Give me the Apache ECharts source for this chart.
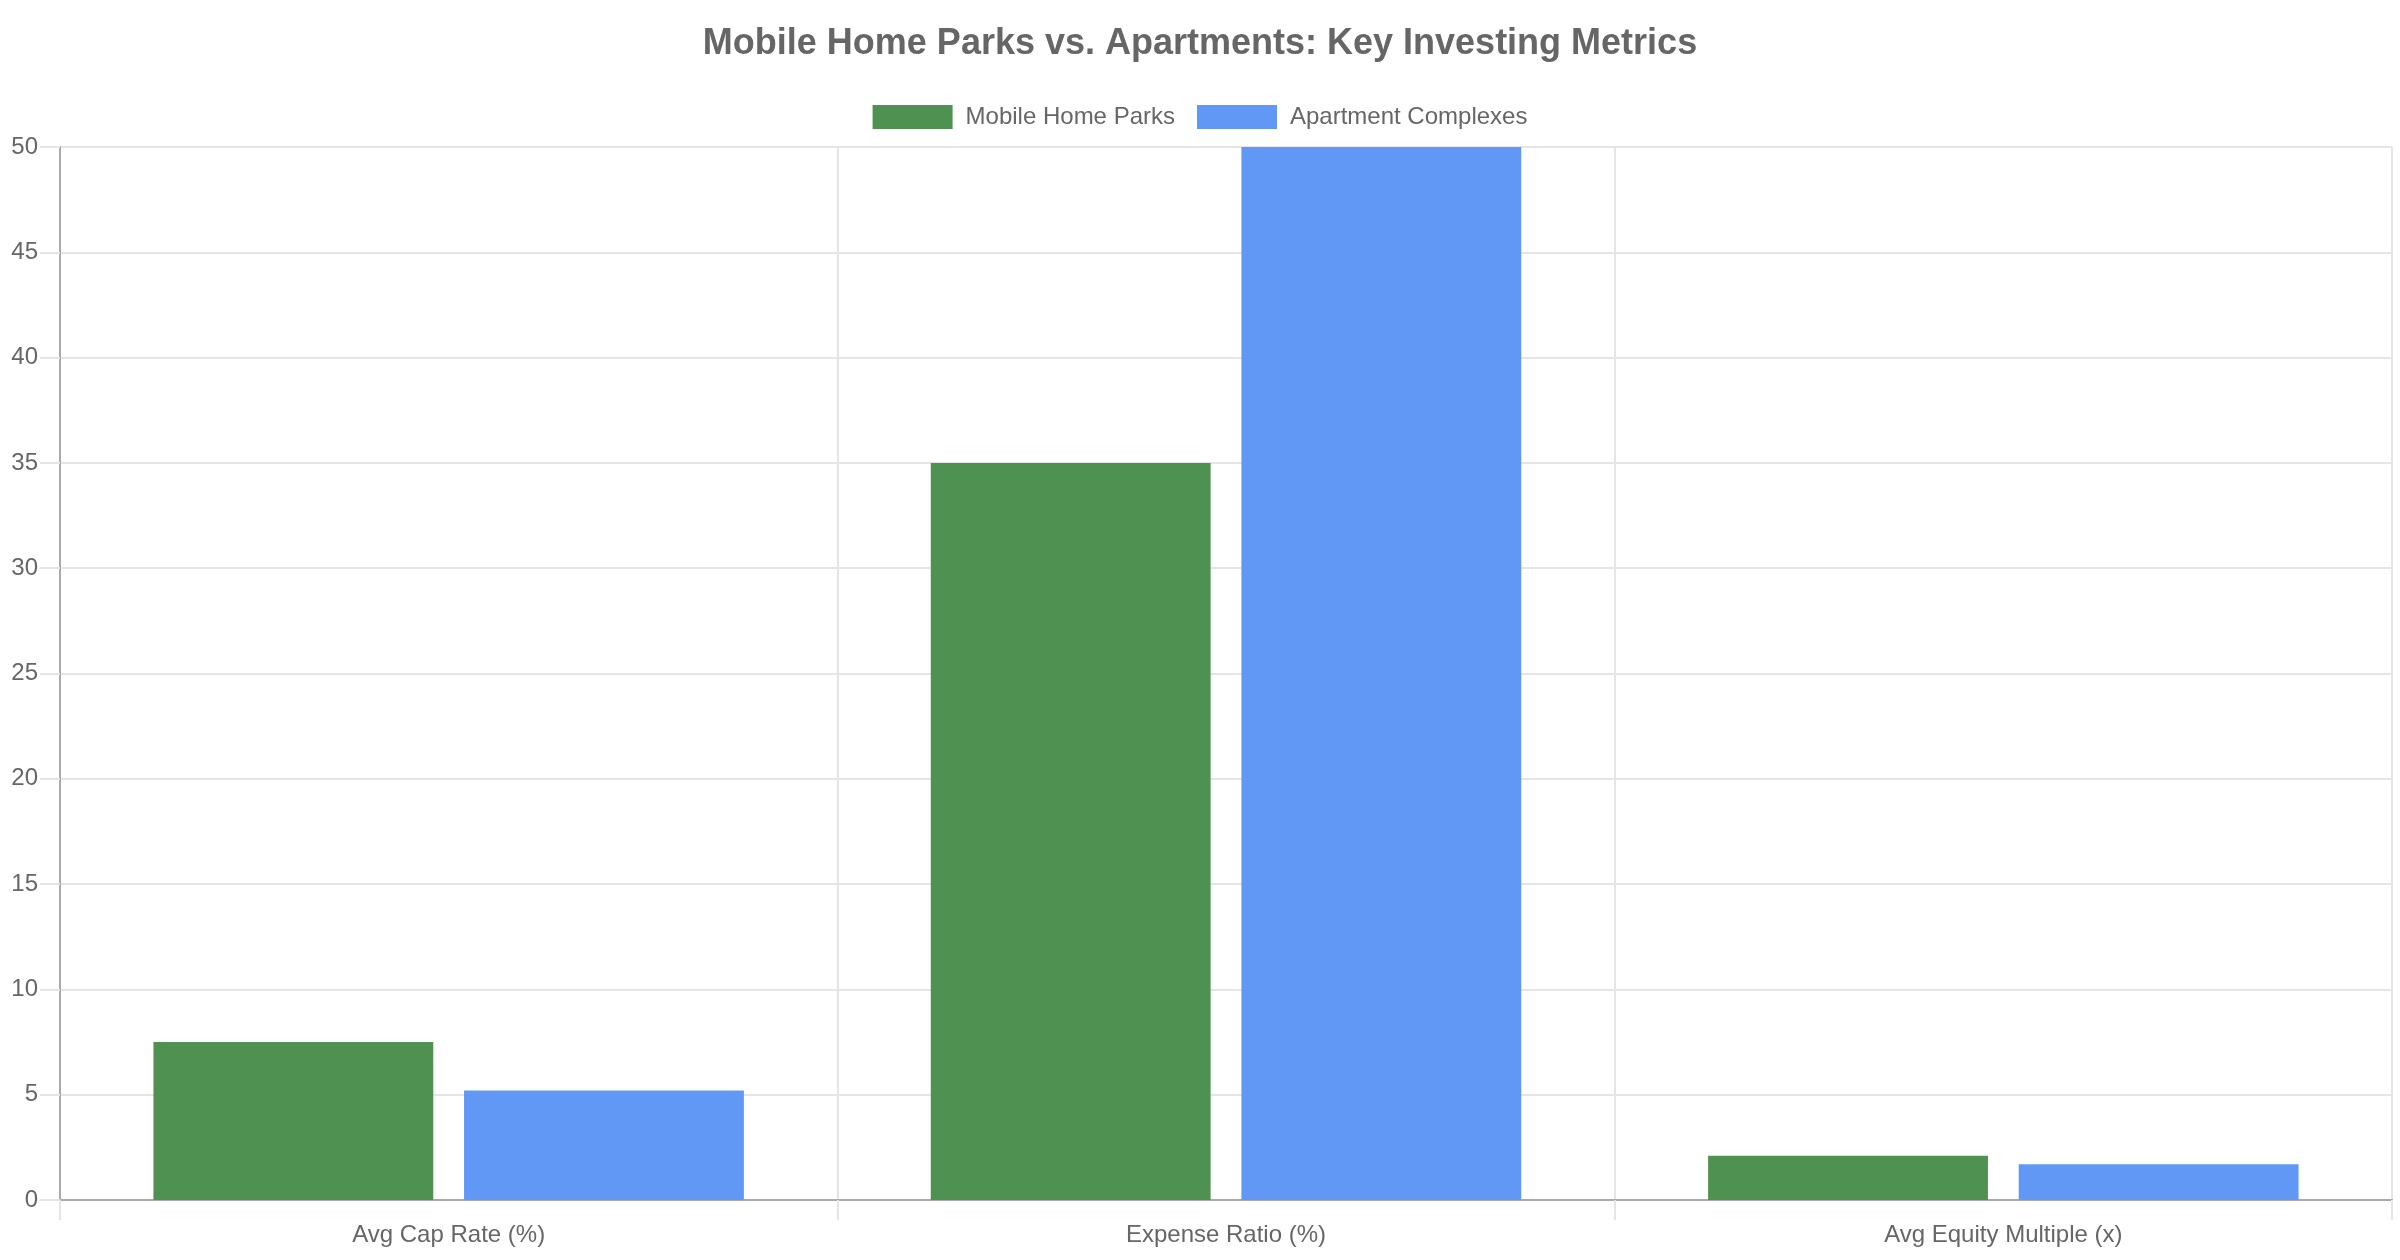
<!DOCTYPE html>
<html>
<head>
<meta charset="utf-8">
<title>Mobile Home Parks vs. Apartments</title>
<script src="https://cdn.jsdelivr.net/npm/echarts@6/dist/echarts.min.js"></script>
<style>
  html, body { margin: 0; padding: 0; background: #fff; }
  #main { width: 2400px; height: 1260px; }
</style>
</head>
<body>
<div id="main"></div>
<script>
// chart data
var categories = ['Avg Cap Rate (%)', 'Expense Ratio (%)', 'Avg Equity Multiple (x)'];
var mobileHomeParks = [7.5, 35, 2.1];
var apartmentComplexes = [5.2, 50, 1.7];
var seriesNames = ['Mobile Home Parks', 'Apartment Complexes'];

var FONT = '"Liberation Sans", Arial, sans-serif';
var TEXT = '#666';
var GRID_LINE = '#e5e5e5';
var AXIS_LINE = '#aaa';

var chart = echarts.init(document.getElementById('main'), null, { renderer: 'canvas' });

var option = {
  backgroundColor: '#fff',
  animation: false,
  textStyle: { fontFamily: FONT },
  title: {
    text: 'Mobile Home Parks vs. Apartments: Key Investing Metrics',
    left: 'center',
    top: 21,
    textStyle: {
      color: TEXT,
      fontSize: 36,
      fontWeight: 'bold',
      fontFamily: FONT
    }
  },
  legend: {
    top: 100,
    left: 'center',
    icon: 'rect',
    itemWidth: 80,
    itemHeight: 24,
    itemGap: 22,
    textStyle: {
      color: TEXT,
      fontSize: 24,
      fontFamily: FONT,
      padding: [0, 0, 0, 8]
    },
    data: seriesNames
  },
  grid: {
    left: 60,
    right: 8,
    top: 147,
    bottom: 60,
    containLabel: false
  },
  xAxis: {
    type: 'category',
    data: categories,
    boundaryGap: true,
    axisLine: { show: true, lineStyle: { color: AXIS_LINE, width: 2 } },
    axisTick: { show: true, length: 20, lineStyle: { color: GRID_LINE, width: 2 } },
    splitLine: { show: true, lineStyle: { color: GRID_LINE, width: 2 } },
    axisLabel: {
      color: TEXT,
      fontSize: 24,
      fontFamily: FONT,
      margin: 23
    }
  },
  yAxis: {
    type: 'value',
    min: 0,
    max: 50,
    interval: 5,
    axisLine: { show: true, lineStyle: { color: AXIS_LINE, width: 2 } },
    axisTick: { show: true, length: 20, lineStyle: { color: GRID_LINE, width: 2 } },
    splitLine: { show: true, lineStyle: { color: GRID_LINE, width: 2 } },
    axisLabel: {
      color: TEXT,
      fontSize: 24,
      fontFamily: FONT,
      margin: 22
    }
  },
  series: [
    {
      name: seriesNames[0],
      type: 'bar',
      barWidth: '36%',
      barGap: '11%',
      itemStyle: { color: '#4f9150' },
      data: mobileHomeParks
    },
    {
      name: seriesNames[1],
      type: 'bar',
      barWidth: '36%',
      barGap: '11%',
      itemStyle: { color: '#6198f5' },
      data: apartmentComplexes
    }
  ]
};

chart.setOption(option);
</script>
</body>
</html>
